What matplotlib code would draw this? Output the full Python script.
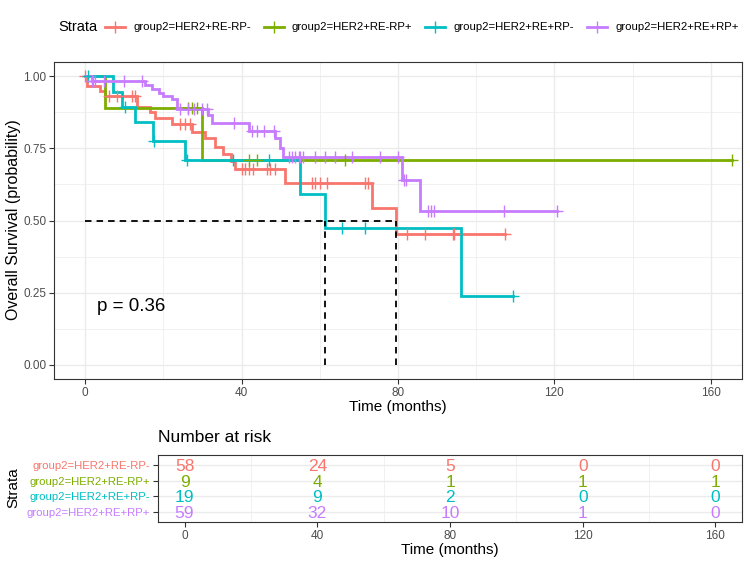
import matplotlib
matplotlib.use("Agg")
import matplotlib.pyplot as plt
import numpy as np
from matplotlib.lines import Line2D

plt.rcParams['font.family'] = ['Liberation Sans', 'DejaVu Sans']

# ---------------- data ----------------
strata = ["group2=HER2+RE-RP-", "group2=HER2+RE-RP+", "group2=HER2+RE+RP-", "group2=HER2+RE+RP+"]
colors = ["#F8766D", "#7CAE00", "#00BFC4", "#C77CFF"]

# step times (months) and survival after each step
red_times = [0.4, 3.8, 5.1, 13.2, 16.6, 17.9, 22.2, 27.3, 30.7, 33.2, 35.3, 37.2, 38.4, 51.2, 73.3, 79.5]
red_surv = [0.966, 0.949, 0.932, 0.895, 0.876, 0.855, 0.836, 0.808, 0.785, 0.756, 0.731, 0.705, 0.680, 0.630, 0.544, 0.453]
red_censor = [0.0, 6.0, 8.1, 11.9, 12.8, 24.3, 25.6, 26.9, 40.1, 40.9, 41.8, 43.0, 46.5, 47.3, 48.6,
              58.0, 58.8, 60.1, 61.8, 71.6, 72.4, 82.3, 86.9, 94.0, 94.4, 107.4]

green_times = [5.1, 29.8]
green_surv = [0.889, 0.711]
green_censor = [26.3, 27.3, 28.6, 41.8, 43.9, 66.5, 165.4]

cyan_times = [7.2, 9.4, 12.8, 17.2, 25.4, 55.0, 61.4, 96.1]
cyan_surv = [0.947, 0.895, 0.842, 0.776, 0.710, 0.592, 0.473, 0.237]
cyan_censor = [0.8, 10.1, 17.7, 26.0, 37.9, 46.9, 65.6, 71.6, 109.3]

purple_times = [1.7, 15.3, 17.0, 18.8, 20.0, 22.2, 23.4, 31.5, 32.4, 42.0, 48.6, 49.8, 50.7, 81.0, 85.5]
purple_surv = [0.985, 0.970, 0.956, 0.943, 0.932, 0.920, 0.888, 0.865, 0.840, 0.811, 0.785, 0.753, 0.720, 0.641, 0.533]
purple_censor = [1.7, 2.1, 2.6, 4.8, 9.9, 14.6, 24.3, 26.4, 27.7, 29.8, 31.1, 38.1, 42.6, 43.9, 45.6, 48.2,
                 52.0, 52.9, 53.7, 54.6, 55.0, 55.8, 58.8, 61.4, 63.9, 68.2, 75.4, 80.1, 81.6, 82.0,
                 87.7, 88.4, 89.2, 107.2, 120.6]

pval_text = "p = 0.36"

risk_times = [0, 40, 80, 120, 160]
risk_red = [58, 24, 5, 0, 0]
risk_green = [9, 4, 1, 1, 1]
risk_cyan = [19, 9, 2, 0, 0]
risk_purple = [59, 32, 10, 1, 0]

x_ticks = [0, 40, 80, 120, 160]
y_ticks = [0.00, 0.25, 0.50, 0.75, 1.00]
y_ticklabels = ["0.00", "0.25", "0.50", "0.75", "1.00"]

groups = [
    (red_times, red_surv, red_censor),
    (green_times, green_surv, green_censor),
    (cyan_times, cyan_surv, cyan_censor),
    (purple_times, purple_surv, purple_censor),
]
risks = [risk_red, risk_green, risk_cyan, risk_purple]

# ---------------- figure ----------------
W, H = 750, 563
fig = plt.figure(figsize=(7.5, 5.63), dpi=100)

def fx(px):
    return px / W

def fy(py):
    return 1 - py / H

ax = fig.add_axes([fx(54), fy(379), fx(742) - fx(54), fy(62) - fy(379)])
XLIM = (-8, 168)
ax.set_xlim(*XLIM)
ax.set_ylim(-0.05, 1.05)

grid_col = "#EBEBEB"
for v in [20, 60, 100, 140]:
    ax.axvline(v, color=grid_col, lw=0.5, zorder=0)
for v in [0.125, 0.375, 0.625, 0.875]:
    ax.axhline(v, color=grid_col, lw=0.5, zorder=0)
for v in x_ticks:
    ax.axvline(v, color=grid_col, lw=1.0, zorder=0)
for v in y_ticks:
    ax.axhline(v, color=grid_col, lw=1.0, zorder=0)

medians = []
for (t, s, c), col in zip(groups, colors):
    end = max(max(t), max(c))
    xs = [0] + list(t) + [end]
    ys = [1.0] + list(s) + [s[-1]]
    ax.step(xs, ys, where='post', color=col, lw=2.0, zorder=3, solid_joinstyle='miter')
    tt = np.array([0] + list(t))
    ss = np.array([1.0] + list(s))
    idx = np.searchsorted(tt, np.array(c), side='right') - 1
    ax.plot(c, ss[idx], ls='none', marker='+', ms=8, mew=1.0, color=col, zorder=4)
    below = [ti for ti, si in zip(t, s) if si <= 0.5]
    if below:
        medians.append(below[0])

dash = (0, (3.6, 2.8))
if medians:
    ax.plot([0, max(medians)], [0.5, 0.5], color='black', lw=1.3, ls=dash, zorder=5)
    for m in medians:
        ax.plot([m, m], [0, 0.5], color='black', lw=1.3, ls=dash, zorder=5)

ax.text(3.0, 0.2, pval_text, fontsize=13.5, ha='left', va='center', color='black')

ax.set_xticks(x_ticks)
ax.set_xticklabels([str(v) for v in x_ticks])
ax.set_yticks(y_ticks)
ax.set_yticklabels(y_ticklabels)
ax.tick_params(axis='both', direction='out', length=3.5, width=0.8, color='#333333',
               labelsize=8.5, labelcolor='#4D4D4D', pad=2)
for sp in ax.spines.values():
    sp.set_color('#333333')
    sp.set_linewidth(0.8)
ax.set_xlabel("Time (months)", fontsize=11, labelpad=1)
fig.text(fx(14), fy(220), "Overall Survival (probability)", fontsize=11.5,
         rotation=90, ha='center', va='center')

# ---------------- legend ----------------
ly = fy(27)
fig.text(fx(58), ly, "Strata", fontsize=10.5, ha='left', va='center')
key_centers = [115, 274, 435, 597]
label_starts = [133, 292, 454, 616]
for kc, ls_, lab, col in zip(key_centers, label_starts, strata, colors):
    fig.add_artist(Line2D([fx(kc - 10), fx(kc + 10)], [ly, ly], color=col, lw=2.0))
    fig.add_artist(Line2D([fx(kc)], [ly], color=col, marker='+', ms=8, mew=1.0, ls='none'))
    fig.text(fx(ls_), ly, lab, fontsize=8.2, ha='left', va='center')

# ---------------- risk table ----------------
ax2 = fig.add_axes([fx(158), fy(522), fx(742) - fx(158), fy(455) - fy(522)])
ax2.set_xlim(*XLIM)
ax2.set_ylim(0.4, 4.6)
for v in [20, 60, 100, 140]:
    ax2.axvline(v, color=grid_col, lw=0.5, zorder=0)
rows = [4, 3, 2, 1]
for r in rows:
    ax2.axhline(r, color=grid_col, lw=1.0, zorder=0)
for r, vals, col in zip(rows, risks, colors):
    for tx, v in zip(risk_times, vals):
        ax2.text(tx, r, str(v), color=col, fontsize=12.5, ha='center', va='center_baseline')
ax2.set_yticks(rows)
ax2.set_yticklabels(strata)
for lbl, col in zip(ax2.get_yticklabels(), colors):
    lbl.set_color(col)
ax2.set_xticks(x_ticks)
ax2.set_xticklabels([str(v) for v in x_ticks])
ax2.tick_params(axis='y', direction='out', length=3.5, width=0.8, color='#333333', labelsize=8.2, pad=2)
ax2.tick_params(axis='x', direction='out', length=3.5, width=0.8, color='#333333',
                labelsize=8.5, labelcolor='#4D4D4D', pad=2)
for sp in ax2.spines.values():
    sp.set_color('#333333')
    sp.set_linewidth(0.8)
ax2.set_xlabel("Time (months)", fontsize=11, labelpad=1)
fig.text(fx(13), fy(488), "Strata", fontsize=11, rotation=90, ha='center', va='center')
fig.text(fx(158), fy(437), "Number at risk", fontsize=12.5, ha='left', va='center')

fig.savefig("out.png", dpi=100)
